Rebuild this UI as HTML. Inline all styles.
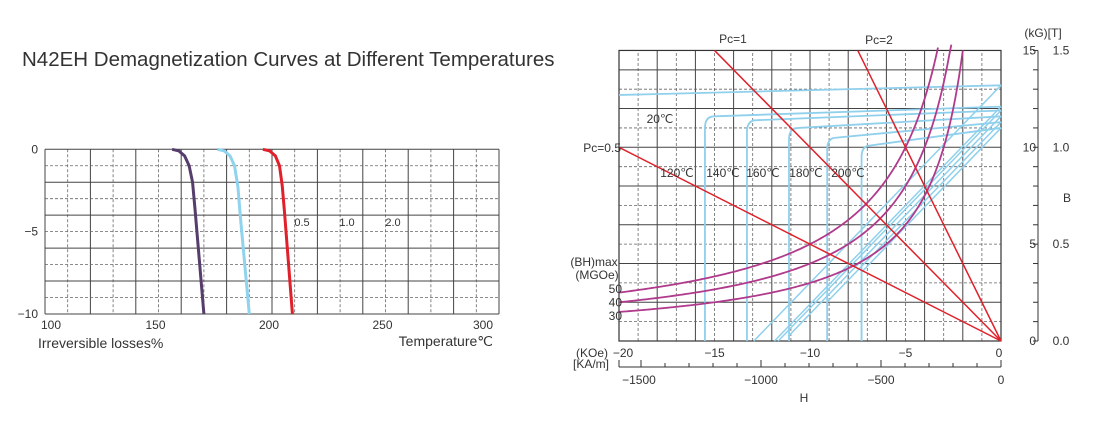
<!DOCTYPE html>
<html><head><meta charset="utf-8"><style>
body{margin:0;background:#fff;width:1094px;height:436px;overflow:hidden}
svg{display:block;font-family:"Liberation Sans",sans-serif}
</style></head><body>
<svg id="s" width="1094" height="436">
<text x="22" y="66" font-size="20.5" fill="#333">N42EH Demagnetization Curves at Different Temperatures</text>
<g id="L"></g>
<g id="R"></g>
</svg>
<script>
// ---- left chart data ----
const lossTicksX=[100,150,200,250,300];
const lossTicksY=[0,-5,-10];
const lossPurpleT=[156,159,161.5,163.5,165,166,170];
const lossPurpleV=[0,-0.1,-0.4,-1,-2,-3.5,-10];
const lossBlueT=[176,179,181.5,183.5,185,186,190];
const lossBlueV=[0,-0.1,-0.4,-1,-2.3,-4,-10];
const lossRedT=[196,199,201.5,203.3,204.5,205.5,209];
const lossRedV=[0,-0.1,-0.4,-1,-2.2,-3.8,-10];
const pcLabels=["0.5","1.0","2.0"];
// ---- right chart data ----
const hTicks=[-20,-15,-10,-5,0];
const kaTicks=[-1500,-1000,-500,0];
const bTicks=[0,5,10,15];
const tTicks=["0.0","0.5","1.0","1.5"];
const pcValues=[0.5,1,2];
const bhValues=[50,40,30];
const temps=["20℃","120℃","140℃","160℃","180℃","200℃"];
const brValues=[13.2,12.1,11.9,11.6,11.3,11.0];
const flatLeftB=[12.7,11.6,11.4,11.0,10.5,10.1];
const hcjValues=[-22,-15.5,-13.3,-11.1,-9.1,-7.3];

const NS="http://www.w3.org/2000/svg";
function mk(p,t,a,name){const e=document.createElementNS(NS,t);for(const k in a)e.setAttribute(k,a[k]);


p.appendChild(e);return e;}
function txt(p,x,y,s,size,anchor,name,fill){const e=mk(p,'text',{x:x,y:y,'font-size':size,'text-anchor':anchor||'start',fill:fill||'#333'},name);e.textContent=s;return e;}

// left
const L=document.getElementById('L');
const lx=t=>45+(t-100)*(454/200), ly=v=>149.3-v*16.47;
for(let i=0;i<=20;i++){const t=100+i*10;mk(L,'line',{x1:lx(t),x2:lx(t),y1:ly(0),y2:ly(-10),stroke:i%2?'#666':'#444','stroke-width':i%2?0.8:1,'stroke-dasharray':i%2?'3,2':''},'x-grid-line');}
for(let i=0;i<=10;i++){const v=-i;mk(L,'line',{x1:lx(100),x2:lx(300),y1:ly(v),y2:ly(v),stroke:i%2?'#666':'#444','stroke-width':i%2?0.8:1,'stroke-dasharray':i%2?'3,2':''},'y-grid-line');}
lossTicksX.forEach(t=>txt(L,lx(t)+(t==300?-16:t==100?6:-3),329,t,12,'middle','x-tick-label'));
lossTicksY.forEach(v=>txt(L,38,ly(v)+4,v==0?'0':'−'+(-v),12,'end','y-tick-label'));
function series(p,T,V,c,name){mk(p,'path',{d:T.map((t,i)=>(i?'L':'M')+lx(t)+','+ly(V[i])).join(''),fill:'none',stroke:c,'stroke-width':3,'stroke-linejoin':'round'},name);}
series(L,lossPurpleT,lossPurpleV,'#563d6b','loss-curve-pc-0.5');
series(L,lossBlueT,lossBlueV,'#8fd3ee','loss-curve-pc-1');
series(L,lossRedT,lossRedV,'#e0202a','loss-curve-pc-2');
pcLabels.forEach((s,i)=>txt(L,[302,347,393][i],226,s,11,'middle','pc-label'));
txt(L,38,348,'Irreversible losses%',14,'start','x-axis-title-left');
txt(L,493,346,'Temperature℃',14,'end','x-axis-title-right');

// right
const R=document.getElementById('R');
const hx=h=>1001+h*19.1, by=b=>341-b*19.37;
for(let i=0;i<=20;i++){const h=-20+i;mk(R,'line',{x1:hx(h),x2:hx(h),y1:by(0),y2:by(15),stroke:i%2?'#666':'#444','stroke-width':i%2?0.8:1,'stroke-dasharray':i%2?'3,2':''},'h-grid-line');}
for(let i=0;i<=15;i++){mk(R,'line',{x1:hx(-20),x2:hx(0),y1:by(i),y2:by(i),stroke:i%2?'#666':'#444','stroke-width':i%2?0.8:1,'stroke-dasharray':i%2?'3,2':''},'b-grid-line');}
mk(R,'rect',{x:hx(-20),y:by(15),width:hx(0)-hx(-20),height:by(0)-by(15),fill:'none',stroke:'#333','stroke-width':1.2},'plot-frame');
// right axis
mk(R,'line',{x1:1038,x2:1038,y1:by(15),y2:by(0),stroke:'#333'},'b-axis-line');
for(let b=0;b<=15;b++)mk(R,'line',{x1:1033,x2:1038,y1:by(b),y2:by(b),stroke:'#333'},'b-tick');
bTicks.forEach((b,i)=>{txt(R,1036,by(b)+4,b,12,'end','b-tick-kg');txt(R,1061,by(b)+4,tTicks[i],12,'middle','b-tick-t');});
txt(R,1043,37,'(kG)[T]',12,'middle','b-unit-label');
txt(R,1067,202,'B',12,'middle','b-axis-title');
// bottom axes
hTicks.forEach(h=>txt(R,hx(h)+(h==-20?4:h==0?-2:0),357,h==0?'0':'−'+(-h),12,'middle','h-tick-koe'));
txt(R,608,357,'(KOe)',12,'end','koe-unit');
txt(R,573,368,'[KA/m]',12,'start','kam-unit');
mk(R,'line',{x1:hx(-20),x2:hx(0),y1:367,y2:367,stroke:'#333'},'kam-axis-line');
for(let k=-1600;k<=0;k+=100){const x=hx(k/79.58);if(x>=hx(-20)-0.5)mk(R,'line',{x1:x,x2:x,y1:k%500?363:360,y2:367,stroke:'#333'},'kam-tick');}
mk(R,'line',{x1:hx(-20),x2:hx(-20),y1:360,y2:367,stroke:'#333'},'kam-tick');
mk(R,'line',{x1:hx(0),x2:hx(0),y1:360,y2:367,stroke:'#333'},'kam-tick');
kaTicks.forEach(k=>txt(R,hx(k/79.58)+(k==-1500?-2:0),384,k==0?'0':'−'+(-k),12,'middle','h-tick-kam'));
txt(R,804,402,'H',12,'middle','h-axis-title');
// demag curves
const blue='#8fd0ec';
temps.forEach((t,i)=>{const br=brValues[i],hc=hcjValues[i],fl=flatLeftB[i];let d;
 if(hc<-20){d='M'+hx(-20)+','+by(fl)+'L'+hx(0)+','+by(br);}
 else{d='M'+hx(hc)+','+by(0)+'L'+hx(hc)+','+by(fl-0.6)+'Q'+hx(hc)+','+by(fl)+' '+hx(hc+0.5)+','+by(fl)+'L'+hx(0)+','+by(br);}
 mk(R,'path',{d:d,fill:'none',stroke:blue,'stroke-width':1.8},'intrinsic-curve-'+t);
 const hz=Math.max(-br/1.02,hc);const bz=br+1.02*hz;
 let d2='M'+hx(0)+','+by(br)+'L'+hx(hz)+','+by(bz)+(bz>0.01?'L'+hx(hz)+','+by(0):'');
 mk(R,'path',{d:d2,fill:'none',stroke:blue,'stroke-width':1.5},'normal-curve-'+t);
});
// BH curves
bhValues.forEach(v=>{let pts=[];for(let h=-20;h<=-v/15.5;h+=0.1){const b=v/(-h);pts.push(hx(h)+','+by(Math.min(b,15.3)));}
 mk(R,'path',{d:'M'+pts.join('L'),fill:'none',stroke:'#b03a8c','stroke-width':1.8},'bh-curve-'+v);});
// Pc lines
pcValues.forEach(p=>{const h=Math.max(-20,-15/p);mk(R,'line',{x1:hx(0),y1:by(0),x2:hx(h),y2:by(-p*h),stroke:'#e0202a','stroke-width':1.5},'pc-line-'+p);});
txt(R,733,43,'Pc=1',12,'middle','pc1-label');
txt(R,879,44,'Pc=2',12,'middle','pc2-label');
txt(R,621,152,'Pc=0.5',12,'end','pc05-label');
const tx=[660,677,723,763,806,848],ty=[123,177,177,177,177,177];
temps.forEach((t,i)=>txt(R,tx[i],ty[i],t,12,'middle','temp-label'));
txt(R,594,266,'(BH)max',12,'middle','bhmax-label');
txt(R,597,279,'(MGOe)',12,'middle','mgoe-label');
bhValues.forEach((v,i)=>txt(R,622,293+i*13.5,v,12,'end','bh-value-label'));
</script>
</body></html>
